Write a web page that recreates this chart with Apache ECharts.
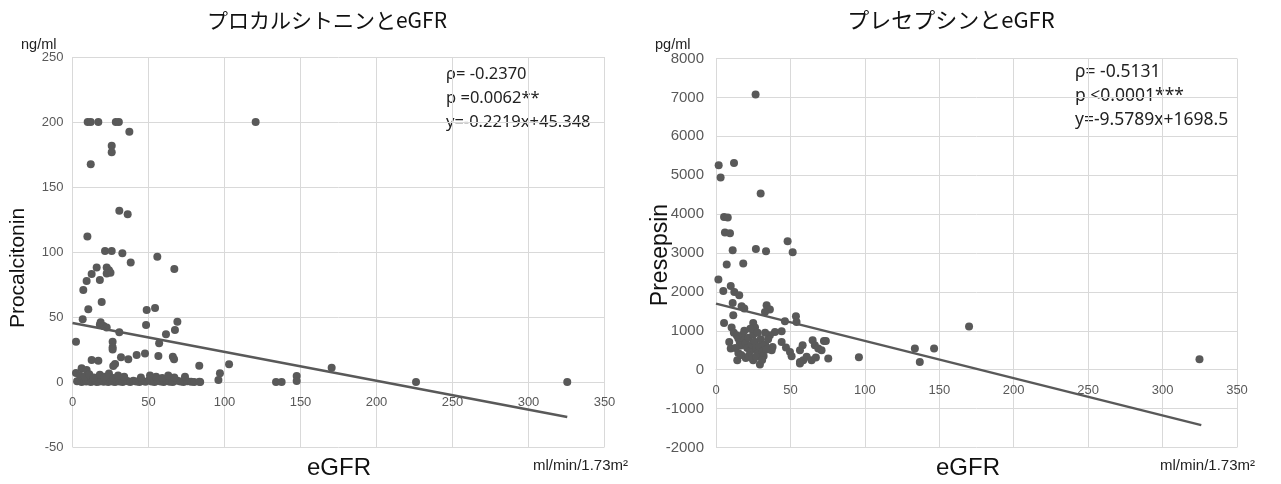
<!DOCTYPE html>
<html><head><meta charset="utf-8">
<script src="https://cdn.jsdelivr.net/npm/echarts@6/dist/echarts.min.js"></script>
<style>html,body{margin:0;padding:0;background:#fff}#c{width:1281px;height:484px}</style>
</head><body><div id="c"></div>
<script>
// ---- data ----
const xTicks = [0, 50, 100, 150, 200, 250, 300, 350];
const pctTicks = [-50, 0, 50, 100, 150, 200, 250];
const presTicks = [-2000, -1000, 0, 1000, 2000, 3000, 4000, 5000, 6000, 7000, 8000];

// Procalcitonin vs eGFR (eGFR, ng/ml)
const pctHigh = [
 [10,200],[12,200],[17,200],[28.5,200],[30.5,200],[120.5,200],
 [37.4,192.5],[25.8,181.8],[25.8,176.7],[12,167.5],[30.8,131.8],[36.3,129],[9.8,112],
 [21.4,100.8],[25.8,100.8],[32.8,99],[38.3,92],[55.8,96.4],[67,87],
 [15.9,88],[12.6,83],[9.3,77.7],[7.1,70.8],[18,78.5],[22.5,88],[24,86],[25,84],[22.5,83.5],
 [19.2,61.5],[10.4,56],[6.7,48.2],[18.5,46],[18,44],[20.5,43],[22.5,42],
 [48.8,55.4],[54.3,57],[48.4,43.8],[69,46.4],[67.4,40],[61.5,36.7],[30.8,38.2],[2.3,31],
 [26.4,31],[26.4,26.7],[26.4,25],[57,29.8],[56.5,20],[66,19.5],[66.8,17.5],
 [47.7,22],[42.2,20.8],[36.7,17.5],[31.9,19],[28,13.8],[26.8,12.3],[12.6,17],[17,16.4],[83.4,12.5],
 [2.3,7],[6,10.5],[9.3,9.2],
 [103,13.6],[97,6.7],[96,1.5],[84,0],[133.9,0],[137.6,0],[147.5,4.6],[147.5,0.8],[170.5,11],[226,0],[325.5,0]
];
const pctLow = [
 [3,0.5],[4.5,1],[6,0],[7.5,0.8],[9,0.3],[10.5,1.2],[12,0],[13.5,0.6],[15,1],[16,0],[17.5,0.4],[19,1.5],
 [20.5,0.2],[22,0.8],[23.5,0],[25,1.1],[26.5,0.3],[28,0],[29.5,0.9],[31,0.4],[33,0],[35,1.2],[36.5,0.5],
 [38,0],[40,1],[42,0.3],[44,0],[46,0.8],[48,0.2],[50.5,1.5],[52,0.4],[54,0],[56,1],[58,0.3],[60,0],
 [62,0.9],[64,0.2],[66,0],[69,1],[71,0.3],[73,0],[75.5,0.6],[78,0.2],[80,0],[83.5,0.2],
 [5,5],[8,4],[11,6],[14,3.5],[18,5.5],[21,4],[24,6.5],[27,3],[30,5],[34,4],[45,3.5],[51,5],[55,4],
 [59,3],[63,5],[67,3.5],[74,4]
];
// Presepsin vs eGFR (eGFR, pg/ml)
const presPts = [
 [26.6,7075],[1.8,5257],[12.1,5316],[3.1,4941],[30,4530],[5.4,3928],[7.9,3912],[6,3527],[9.4,3509],
 [48.1,3303],[11.2,3072],[26.8,3105],[33.6,3046],[51.5,3021],[18.3,2730],[7.2,2704],[1.6,2319],
 [9.9,2154],[4.9,2026],[12.3,2000],[15.6,1915],[11.2,1717],[17.2,1632],[19,1573],[34,1658],[36.2,1548],
 [32.9,1486],[11.6,1401],[53.7,1375],[54.1,1229],[46.3,1247],[5.4,1203],[25,1203],[26.2,1085],[10.5,1085],
 [44.1,990],[39.6,972],[36.2,887],[8.9,715],[9.9,545],[14.3,244],[25,244],[29.5,134],[38,586],[37.4,501],
 [44.1,715],[47,571],[49.7,458],[50.8,347],[56.4,200],[58.6,244],[58.2,630],[56.4,501],[64.9,758],
 [66.4,630],[68.7,545],[70.9,501],[72.5,740],[73.8,740],[60.9,330],[64.2,244],[67.1,313],[75.4,287],[56.4,160],
 [96,321],[133.6,545],[136.9,201],[146.5,545],[170,1110],[324.8,270],
 [12,950],[14,880],[15,800],[16,700],[17,620],[18,900],[19,760],[20,680],[21,560],[22,820],[23,480],
 [24,640],[25,900],[26,720],[27,540],[28,420],[29,600],[30,780],[31,460],[32,350],[33,650],[34,520],
 [13,560],[15,430],[17,380],[20,300],[22,360],[24,300],[27,330],[31,250],[19,1000],[23,1050],[28,950],
 [35,780],[33,950]
];
// trendline coefficients (from the chart) and x range
const pctTrend = {slope: -0.2219, intercept: 45.348, x: [0, 325.5]};
const presTrend = {slope: -9.5789, intercept: 1698.5, x: [0, 326]};
// ---- chart ----
const trendPts = t => t.x.map(x => [x, t.slope * x + t.intercept]);
const gray = '#595959', grid = '#d9d9d9';
const LF = 'Liberation Sans, Arial, sans-serif';
const G = [
  {left: 72.5, top: 57, width: 532, height: 390, ymin: -50, ymax: 250, yiv: 50, ySize: 13, yMargin: 9},
  {left: 716, top: 58.5, width: 521, height: 389, ymin: -2000, ymax: 8000, yiv: 1000, ySize: 15, yMargin: 12}
];
// offset of the x axis from the grid bottom up to the y=0 line, via the y scale
const zeroOffset = g => -g.height * (0 - g.ymin) / (g.ymax - g.ymin);
const xAx = (gi) => ({
  type: 'value', gridIndex: gi, min: 0, max: 350, interval: 50,
  position: 'bottom', offset: zeroOffset(G[gi]),
  axisLine: {show: true, onZero: false, lineStyle: {color: grid}},
  axisTick: {show: false},
  axisLabel: {color: gray, fontSize: 13, fontFamily: LF, margin: 14},
  splitLine: {lineStyle: {color: grid}}
});
const yAx = (gi) => ({
  type: 'value', gridIndex: gi, min: G[gi].ymin, max: G[gi].ymax, interval: G[gi].yiv,
  axisLine: {show: false}, axisTick: {show: false},
  axisLabel: {color: gray, fontSize: G[gi].ySize, fontFamily: LF, margin: G[gi].yMargin, formatter: v => String(v)},
  splitLine: {lineStyle: {color: grid}}
});
const txt = (x, y, text, size, style = {}) => ({
  type: 'text', x, y,
  style: Object.assign({text, fontSize: size, fontFamily: LF, fill: '#222', textAlign: 'left', textVerticalAlign: 'middle'}, style)
});
const AF = 'Noto Sans';
const dot = {color: gray, opacity: 1};
const chart = echarts.init(document.getElementById('c'));
chart.setOption({
  animation: false,
  grid: G.map(g => ({left: g.left, top: g.top, width: g.width, height: g.height})),
  xAxis: [xAx(0), xAx(1)],
  yAxis: [yAx(0), yAx(1)],
  series: [
    {type: 'scatter', xAxisIndex: 0, yAxisIndex: 0, data: pctHigh.concat(pctLow), symbolSize: 8, itemStyle: dot},
    {type: 'line', xAxisIndex: 0, yAxisIndex: 0, data: trendPts(pctTrend), showSymbol: false, lineStyle: {color: gray, width: 2.5}, z: 3},
    {type: 'scatter', xAxisIndex: 1, yAxisIndex: 1, data: presPts, symbolSize: 8, itemStyle: dot},
    {type: 'line', xAxisIndex: 1, yAxisIndex: 1, data: trendPts(presTrend), showSymbol: false, lineStyle: {color: gray, width: 2.5}, z: 3}
  ],
  graphic: [
    txt(327, 20, 'プロカルシトニンとeGFR', 21, {textAlign: 'center', fontFamily: 'Noto Sans CJK JP', fill: '#111'}),
    txt(951, 20, 'プレセプシンとeGFR', 22, {textAlign: 'center', fontFamily: 'Noto Sans CJK JP', fill: '#111'}),
    txt(21, 45, 'ng/ml', 14.5),
    txt(655, 45, 'pg/ml', 14.5),
    txt(446, 74, 'ρ= -0.2370', 16.5, {fontFamily: AF}),
    txt(446, 98, 'p =0.0062**', 16.5, {fontFamily: AF}),
    txt(446, 122, 'y=-0.2219x+45.348', 16.5, {fontFamily: AF}),
    txt(1075, 72, 'ρ= -0.5131', 17.5, {fontFamily: AF}),
    txt(1075, 96, 'p <0.0001***', 17.5, {fontFamily: AF}),
    txt(1075, 120, 'y=-9.5789x+1698.5', 17.5, {fontFamily: AF}),
    txt(339, 468, 'eGFR', 24, {textAlign: 'center', fill: '#111'}),
    txt(968, 468, 'eGFR', 24, {textAlign: 'center', fill: '#111'}),
    txt(533, 466, 'ml/min/1.73m²', 15),
    txt(1160, 466, 'ml/min/1.73m²', 15),
    {type: 'text', x: 18, y: 268, rotation: Math.PI / 2,
     style: {text: 'Procalcitonin', fontSize: 21, fontFamily: LF, fill: '#111', textAlign: 'center', textVerticalAlign: 'middle'}},
    {type: 'text', x: 661, y: 255, rotation: Math.PI / 2,
     style: {text: 'Presepsin', fontSize: 23, fontFamily: LF, fill: '#111', textAlign: 'center', textVerticalAlign: 'middle'}}
  ]
});
</script></body></html>
